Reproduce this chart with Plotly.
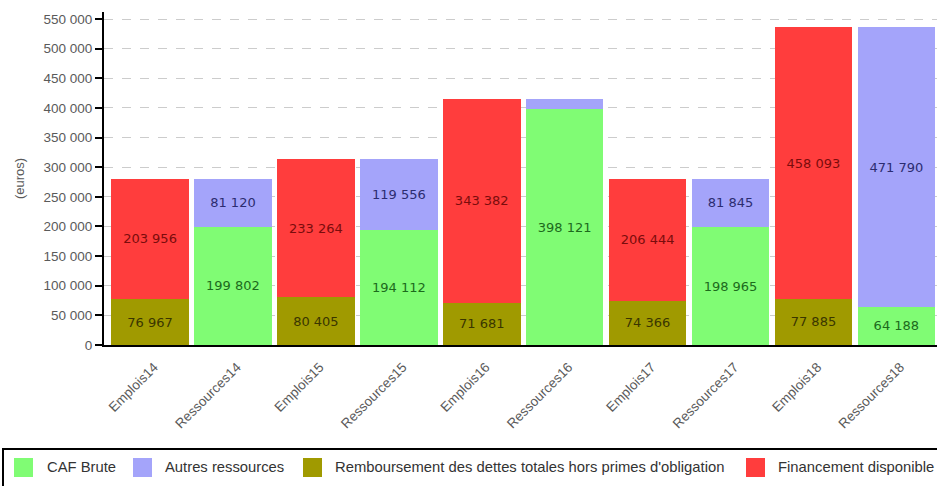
import plotly.graph_objects as go

# Category labels (uses / resources per year)
categories = ["Emplois14", "Ressources14", "Emplois15", "Ressources15",
              "Emplois16", "Ressources16", "Emplois17", "Ressources17",
              "Emplois18", "Ressources18"]

# Series values in euros (None where a series does not apply)
caf_brute = [None, 199802, None, 194112, None, 398121, None, 198965, None, 64188]
autres_ressources = [None, 81120, None, 119556, None, 16942, None, 81845, None, 471790]
remboursement = [76967, None, 80405, None, 71681, None, 74366, None, 77885, None]
financement = [203956, None, 233264, None, 343382, None, 206444, None, 458093, None]

# Y axis ticks
y_ticks = list(range(0, 550001, 50000))

W, H = 937, 486
ML, MR, MT, MB = 104, 0, 12, 141
PW, PH = W - ML - MR, H - MT - MB


def px_x(px):
    return (px - ML) / PW


def px_y(py):
    return (H - MB - py) / PH


def label(v):
    if v is None or v < 30000:
        return ""
    return f"{v:,}".replace(",", " ")


series = [
    ("CAF Brute", caf_brute, "#80fc74", "#1c6a1c"),
    ("Remboursement des dettes totales hors primes d'obligation", remboursement, "#a09a00", "#3a3600"),
    ("Autres ressources", autres_ressources, "#a4a4fa", "#2c2c70"),
    ("Financement disponible", financement, "#ff3d3d", "#7a0c0c"),
]

fig = go.Figure()
for name, vals, color, tcolor in series:
    fig.add_trace(go.Bar(
        x=categories, y=vals, name=name,
        marker=dict(color=color, line=dict(width=0)),
        text=[label(v) for v in vals],
        textposition="inside", insidetextanchor="middle", textangle=0,
        textfont=dict(family="DejaVu Sans", size=13, color=tcolor),
        showlegend=False, hoverinfo="skip",
    ))

fig.update_layout(
    width=W, height=H, barmode="stack", bargap=0.065,
    margin=dict(l=ML, r=MR, t=MT, b=MB),
    paper_bgcolor="white", plot_bgcolor="white",
    separators=", ",
    font=dict(family="Liberation Sans, Arial", color="#5a5a5a", size=13),
    xaxis=dict(
        range=[-0.555, 9.49], tickangle=-45,
        tickfont=dict(size=13.5, color="#5a5a5a"),
        ticklabelstandoff=7, ticklabelshift=4,
        showline=True, linecolor="black", linewidth=2,
        ticks="", showgrid=False,
    ),
    yaxis=dict(
        range=[0, 562000], tickvals=y_ticks, tickformat=",d",
        tickfont=dict(size=13.5, color="#5a5a5a"),
        showline=True, linecolor="black", linewidth=2,
        ticks="outside", ticklen=7, tickwidth=2, tickcolor="black",
        showgrid=True, gridcolor="#cccccc", griddash="dash", gridwidth=1,
        zeroline=False,
        title=dict(text="(euros)", font=dict(size=13, color="#5a5a5a"), standoff=16),
    ),
)

# Legend drawn as a framed row of swatches below the chart
shapes = [dict(type="rect", xref="paper", yref="paper",
               x0=px_x(3), x1=px_x(945), y0=px_y(449), y1=px_y(492),
               line=dict(color="black", width=2), fillcolor="rgba(0,0,0,0)")]
annotations = []
legend_items = [
    ("CAF Brute", "#80fc74", 14, 45),
    ("Autres ressources", "#a4a4fa", 133, 163),
    ("Remboursement des dettes totales hors primes d'obligation", "#a09a00", 303, 333),
    ("Financement disponible", "#ff3d3d", 746, 776),
]
for text, color, sx, tx in legend_items:
    shapes.append(dict(type="rect", xref="paper", yref="paper",
                       x0=px_x(sx), x1=px_x(sx + 19), y0=px_y(477), y1=px_y(458),
                       line=dict(width=0), fillcolor=color))
    annotations.append(dict(text=text, xref="paper", yref="paper",
                            x=px_x(tx), y=px_y(467.5), xanchor="left", yanchor="middle",
                            showarrow=False,
                            font=dict(family="Liberation Sans, Arial", size=14.8, color="#333333")))

fig.update_layout(shapes=shapes, annotations=annotations)
fig.write_html("out.html")
